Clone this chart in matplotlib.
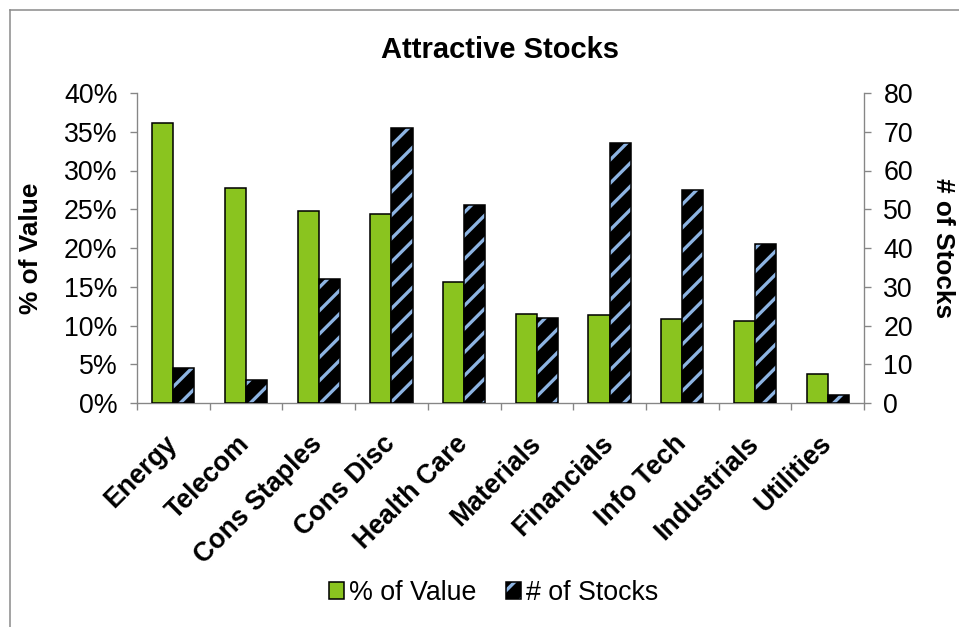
"""
Attractive stocks by sector: share of value (left axis) versus number of
stocks (right axis), drawn as grouped bars.

Output:
    out.png
"""

import matplotlib

matplotlib.use("Agg")

import matplotlib.pyplot as plt
import numpy as np
from matplotlib.legend_handler import HandlerTuple
from matplotlib.lines import Line2D
from matplotlib.patches import Patch


SECTORS = [
    "Energy",
    "Telecom",
    "Cons Staples",
    "Cons Disc",
    "Health Care",
    "Materials",
    "Financials",
    "Info Tech",
    "Industrials",
    "Utilities",
]
PCT_OF_VALUE = [36.1, 27.8, 24.8, 24.4, 15.6, 11.5, 11.35, 10.8, 10.6, 3.7]
NUM_STOCKS = [9, 6, 32, 71, 51, 22, 67, 55, 41, 2]

LEFT_TICKS = [0, 5, 10, 15, 20, 25, 30, 35, 40]
RIGHT_TICKS = [0, 10, 20, 30, 40, 50, 60, 70, 80]

GREEN = "#8AC41F"
STRIPE_BLUE = "#8DB4E2"
AXIS_GREY = "#868686"
FRAME_GREY = "#8C8C8C"

# 70 dpi keeps the single "/" hatch at roughly 12 px spacing
DPI = 70
W_PX, H_PX = 959, 627
FONT = ["Liberation Sans", "DejaVu Sans"]
TICK_SIZE = 27.5

plt.rcParams["font.family"] = FONT
plt.rcParams["hatch.linewidth"] = 3.4


def main() -> None:
    fig = plt.figure(figsize=(W_PX / DPI, H_PX / DPI), dpi=DPI)
    ax = fig.add_axes([137 / W_PX, 1 - 403 / H_PX, (864 - 137) / W_PX, (403 - 93) / H_PX])
    ax2 = ax.twinx()

    x = np.arange(len(SECTORS))
    width = 0.29

    ax.bar(x - width / 2, PCT_OF_VALUE, width, color=GREEN, edgecolor="black", linewidth=1.6, zorder=3)

    # striped bars: black fill with blue hatch, then a black outline on top
    ax2.bar(x + width / 2, NUM_STOCKS, width, color="black", edgecolor=STRIPE_BLUE,
            hatch="/", linewidth=0, zorder=3)
    ax2.bar(x + width / 2, NUM_STOCKS, width, fill=False, edgecolor="black", linewidth=1.6, zorder=4)

    ax.set_xlim(-0.5, len(SECTORS) - 0.5)
    ax.set_ylim(0, 40)
    ax2.set_ylim(0, 80)

    ax.set_yticks(LEFT_TICKS)
    ax.set_yticklabels([f"{t}%" for t in LEFT_TICKS])
    ax2.set_yticks(RIGHT_TICKS)
    ax2.set_yticklabels([str(t) for t in RIGHT_TICKS])

    # boundary ticks between categories, labels on the category centres
    ax.set_xticks(np.arange(-0.5, len(SECTORS)), labels=[])
    ax.set_xticks(x, labels=SECTORS, minor=True)
    ax.tick_params(axis="x", which="major", length=7, width=1.4, color=AXIS_GREY, direction="out")
    ax.tick_params(axis="x", which="minor", length=0, pad=38, labelsize=TICK_SIZE)
    for label in ax.get_xticklabels(minor=True):
        label.set_rotation(45)
        label.set_rotation_mode("anchor")
        label.set_ha("right")
        label.set_va("center")
        label.set_fontweight("bold")

    ax.tick_params(axis="y", length=7, width=1.4, color=AXIS_GREY, labelsize=TICK_SIZE, pad=13)
    ax2.tick_params(axis="y", length=7, width=1.4, color=AXIS_GREY, labelsize=TICK_SIZE, pad=13)

    for axis in (ax, ax2):
        axis.spines["top"].set_visible(False)
        for spine in axis.spines.values():
            spine.set_color(AXIS_GREY)
            spine.set_linewidth(1.4)
    ax.spines["right"].set_visible(False)
    ax2.spines["left"].set_visible(False)
    ax2.spines["bottom"].set_visible(False)

    fig.text(500 / W_PX, 1 - 50 / H_PX, "Attractive Stocks", ha="center", va="center",
             fontsize=30, fontweight="bold")
    fig.text(31 / W_PX, 1 - 248 / H_PX, "% of Value", ha="center", va="center",
             rotation=90, fontsize=27, fontweight="bold")
    fig.text(943 / W_PX, 1 - 248 / H_PX, "# of Stocks", ha="center", va="center",
             rotation=270, fontsize=27, fontweight="bold")

    value_handle = Patch(facecolor=GREEN, edgecolor="black", linewidth=1.6)
    stripe_handle = (
        Patch(facecolor="black", edgecolor=STRIPE_BLUE, hatch="/", linewidth=0),
        Patch(fill=False, edgecolor="black", linewidth=1.6),
    )
    fig.legend(
        [value_handle, stripe_handle],
        ["% of Value", "# of Stocks"],
        handler_map={tuple: HandlerTuple(ndivide=1, pad=0)},
        loc="center",
        bbox_to_anchor=(494 / W_PX, 1 - 593 / H_PX),
        ncol=2,
        frameon=False,
        fontsize=TICK_SIZE,
        handlelength=0.55,
        handleheight=0.55,
        handletextpad=0.2,
        columnspacing=1.1,
    )

    # chart-area frame; its right and bottom edges fall outside the canvas
    frame_kw = dict(color=FRAME_GREY, linewidth=1.6, transform=fig.transFigure)
    fig.add_artist(Line2D([10 / W_PX, 10 / W_PX], [0, 1 - 10 / H_PX], **frame_kw))
    fig.add_artist(Line2D([10 / W_PX, 1], [1 - 10 / H_PX, 1 - 10 / H_PX], **frame_kw))

    fig.savefig("out.png", dpi=DPI)
    plt.close(fig)


if __name__ == "__main__":
    main()
